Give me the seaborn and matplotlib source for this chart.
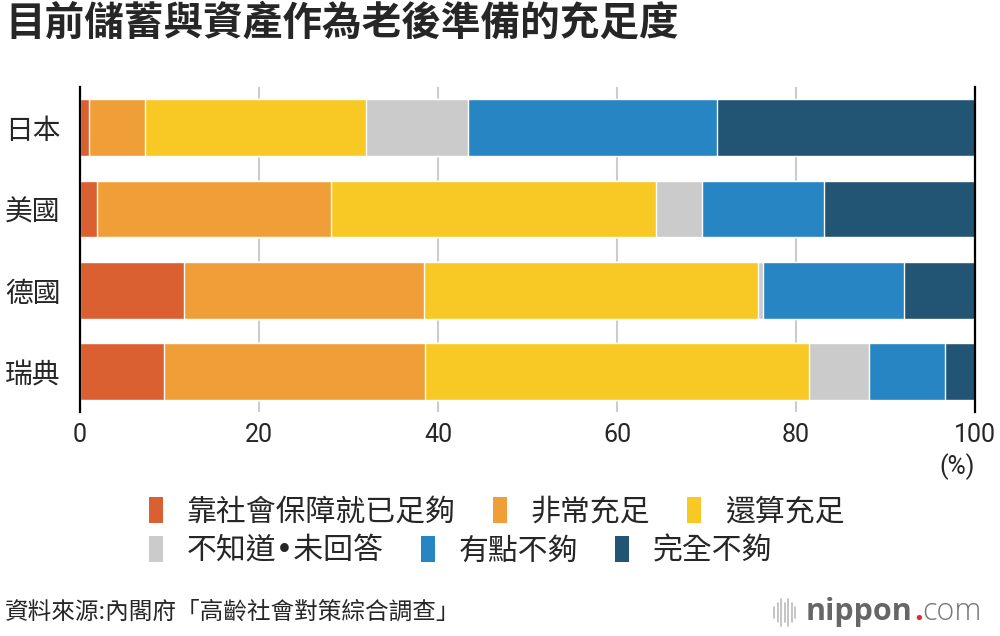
#!/usr/bin/env python3
# -*- coding: utf-8 -*-

import seaborn as sns
import matplotlib.pyplot as plt
import pandas as pd
from matplotlib.patches import Patch
from matplotlib.lines import Line2D

countries = ['日本', '美國', '德國', '瑞典']
categories = ['靠社會保障就已足夠', '非常充足', '還算充足', '不知道•未回答', '有點不夠', '完全不夠']
values = {
    '靠社會保障就已足夠': [1.0, 1.9, 11.6, 9.4],
    '非常充足': [6.3, 26.1, 26.8, 29.1],
    '還算充足': [24.6, 36.4, 37.3, 43.0],
    '不知道•未回答': [11.5, 5.1, 0.6, 6.7],
    '有點不夠': [27.8, 13.6, 15.8, 8.4],
    '完全不夠': [28.8, 16.9, 7.9, 3.4],
}
xticks = [0, 20, 40, 60, 80, 100]
colors = ['#DB6031', '#F09E38', '#F8C924', '#CBCBCB', '#2685C2', '#225474']

title = '目前儲蓄與資產作為老後準備的充足度'
source = '資料來源:內閣府「高齡社會對策綜合調查」'

sns.set_theme(style="white")
plt.rcParams['font.family'] = ['Noto Sans CJK TC', 'DejaVu Sans']

df = pd.DataFrame(values, index=countries)
cum = df.cumsum(axis=1)

fig = plt.figure(figsize=(10, 6.36), dpi=100)
ax = fig.add_axes([0.08, 0.352, 0.895, 0.511])

# stacked bars: draw cumulative totals from the longest down
for cat, col in reversed(list(zip(categories, colors))):
    d = pd.DataFrame({'country': countries, 'val': cum[cat].values})
    sns.barplot(data=d, x='val', y='country', color=col, orient='h',
                width=0.7, saturation=1, ax=ax, zorder=3)

num_font = ['Roboto', 'DejaVu Sans']
ax.set_xlim(0, 100)
ax.set_ylim(3.5, -0.5)
ax.set_xticks(xticks)
ax.set_xticklabels([str(t) for t in xticks], family=num_font, fontsize=18)
ax.tick_params(axis='x', length=0, pad=8)
ax.tick_params(axis='y', length=0, pad=14, labelsize=20)
for lab in ax.get_yticklabels():
    lab.set_fontweight('medium')
ax.set_xlabel('')
ax.set_ylabel('')
ax.grid(axis='x', color='#CCCCCC', linewidth=1.5, zorder=0)
ax.grid(axis='y', visible=False)
for s in ['top', 'bottom']:
    ax.spines[s].set_visible(False)
for s in ['left', 'right']:
    ax.spines[s].set_color('black')
    ax.spines[s].set_linewidth(1.6)
    ax.spines[s].set_zorder(5)

ax.text(1.0, -0.168, '(%)', transform=ax.transAxes, ha='right', va='center',
        fontsize=18, family=num_font)

fig.text(0.005, 0.963, title, fontsize=28.5, fontweight='heavy', ha='left', va='center')

handles = [Patch(facecolor=c, edgecolor='none') for c in colors]
leg_font = {'family': ['DejaVu Sans', 'Noto Sans CJK TC'], 'size': 21.5, 'weight': 'medium'}
for row, yy in enumerate([1 - 512 / 636, 1 - 551 / 636]):
    fig.legend(handles[row * 3:row * 3 + 3], categories[row * 3:row * 3 + 3],
               loc='center left', bbox_to_anchor=(0.149, yy), ncol=3,
               frameon=False, prop=leg_font, handlelength=0.46, handleheight=0.95,
               handletextpad=0.8, columnspacing=1.25, borderpad=0, borderaxespad=0)

fig.text(0.005, 1 - 612 / 636, source, fontsize=17, ha='left', va='center')

# nippon.com logo
for i, h in enumerate([0.018, 0.03, 0.042, 0.03, 0.042, 0.03, 0.018]):
    x = 0.774 + i * 0.0035
    fig.add_artist(Line2D([x, x], [0.037 - h / 2, 0.037 + h / 2], color='#BBBBBB',
                          linewidth=1.2, transform=fig.transFigure))
logo_font = ['Open Sans', 'DejaVu Sans']
t1 = fig.text(0.806, 0.037, 'nippon', fontsize=22, fontweight='bold', color='#666666',
              ha='left', va='center', family=logo_font)
fig.canvas.draw()
r = fig.canvas.get_renderer()
bb = t1.get_window_extent(r)
t2 = fig.text(bb.x1 / fig.bbox.width + 0.001, 0.037, '.', fontsize=22, fontweight='bold',
              color='#E8262B', ha='left', va='center', family=logo_font)
bb2 = t2.get_window_extent(r)
fig.text(bb2.x1 / fig.bbox.width, 0.037, 'com', fontsize=22, color='#777777',
         ha='left', va='center', family=logo_font, fontweight='light')

plt.savefig('out.png', dpi=100)
